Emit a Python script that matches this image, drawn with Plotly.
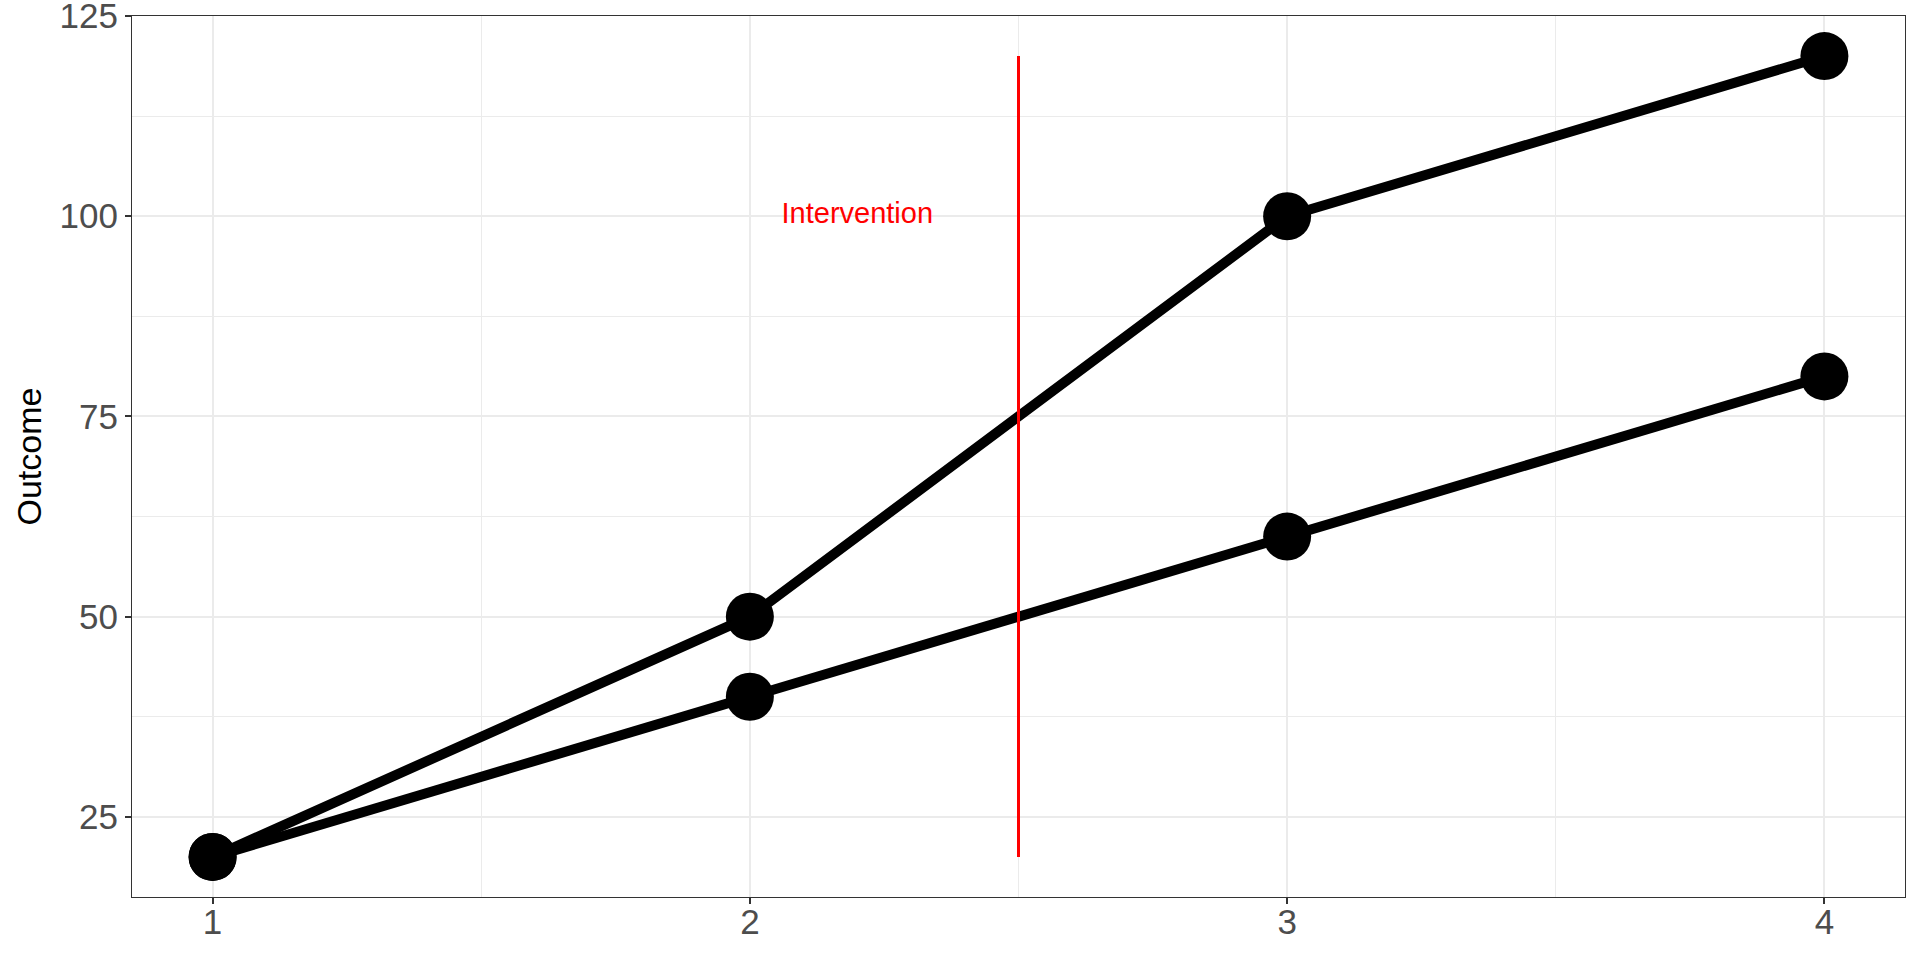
import plotly.graph_objects as go

# data
time = [1, 2, 3, 4]
outcome_high = [20, 50, 100, 120]
outcome_low = [20, 40, 60, 80]

intervention_x = [2.5, 2.5]
intervention_y = [20, 120]
label_x = [2.2]
label_y = [100]
label_text = ["Intervention"]

y_ticks = [25, 50, 75, 100, 125]
x_ticks = [1, 2, 3, 4]

fig = go.Figure()

for ys in (outcome_high, outcome_low):
    fig.add_trace(go.Scatter(x=time, y=ys, mode='lines',
                             line=dict(color='black', width=10)))
for ys in (outcome_high, outcome_low):
    fig.add_trace(go.Scatter(x=time, y=ys, mode='markers',
                             marker=dict(color='black', size=48, line=dict(width=0))))

# intervention line and label
fig.add_trace(go.Scatter(x=intervention_x, y=intervention_y, mode='lines',
                         line=dict(color='#FF0000', width=3)))
fig.add_trace(go.Scatter(x=label_x, y=label_y, mode='text', text=label_text,
                         textposition='middle center',
                         textfont=dict(color='#FF0000', size=29, family='Liberation Sans, Arial')))

fig.update_layout(
    width=1920, height=960,
    margin=dict(l=132, r=15, t=16, b=63),
    showlegend=False,
    plot_bgcolor='white', paper_bgcolor='white',
    font=dict(family='Liberation Sans, Arial', color='#4D4D4D'),
)

fig.update_xaxes(range=[0.85, 4.15], tickvals=x_ticks, automargin=False,
                 showgrid=True, gridcolor='#EBEBEB', gridwidth=2,
                 minor=dict(dtick=0.5, tick0=0.5, showgrid=True, gridcolor='#EBEBEB', gridwidth=1, ticks=''),
                 zeroline=False, showline=True, linecolor='#333333', linewidth=1, mirror=True,
                 ticks='outside', ticklen=6, tickwidth=2, tickcolor='#333333',
                 ticklabelstandoff=-12, ticklabeloverflow='allow',
                 tickfont=dict(size=35, color='#4D4D4D'))
fig.update_yaxes(range=[15, 125], tickvals=y_ticks, automargin=False,
                 showgrid=True, gridcolor='#EBEBEB', gridwidth=2,
                 minor=dict(dtick=12.5, tick0=12.5, showgrid=True, gridcolor='#EBEBEB', gridwidth=1, ticks=''),
                 zeroline=False, showline=True, linecolor='#333333', linewidth=1, mirror=True,
                 ticks='outside', ticklen=6, tickwidth=2, tickcolor='#333333',
                 ticklabeloverflow='allow',
                 tickfont=dict(size=35, color='#4D4D4D'))

fig.add_annotation(text='Outcome', xref='paper', yref='paper', x=0, y=0.5,
                   xanchor='center', yanchor='middle', xshift=-104, textangle=-90,
                   showarrow=False, font=dict(size=34, color='black'))

# drop the default page margin so the figure sits at the window corner
fig.write_html("out.html", config={'displayModeBar': False},
               post_script="document.body.style.margin='0';")
